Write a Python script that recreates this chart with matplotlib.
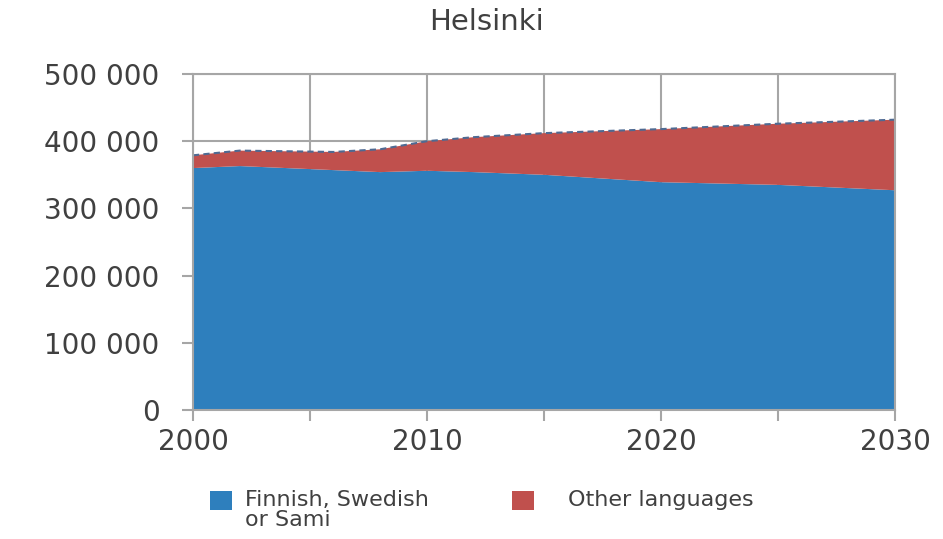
import numpy as np
import matplotlib
matplotlib.use("Agg")
import matplotlib.pyplot as plt
from matplotlib.ticker import FuncFormatter, MultipleLocator
from matplotlib.patches import Rectangle

# data (population)
years = [2000, 2002, 2004, 2006, 2008, 2010, 2012, 2015, 2020, 2025, 2030]
finnish = [360000, 363000, 360000, 357000, 354000, 356000, 354000, 350000, 339000, 335000, 327000]
other = [19000, 23000, 25000, 27000, 34000, 44000, 52000, 62000, 79000, 91000, 105000]
labels = ["Finnish, Swedish\nor Sami", "Other languages"]

blue = "#2E7FBD"
red = "#C0504D"
grid = "#A6A6A6"
txt = "#404040"

total = np.array(finnish) + np.array(other)

W, H = 943, 539
fig = plt.figure(figsize=(W / 100, H / 100), dpi=100)
ax = fig.add_axes([193 / W, 1 - 410 / H, (895 - 193) / W, (410 - 74) / H])

ax.stackplot(years, finnish, other, colors=[blue, red], linewidth=0)
ax.plot(years, total, ls=(0, (3, 2)), color="#4F6A92", lw=1.5)
ax.plot([years[-1], years[-1]], [finnish[-1], total[-1]], ls=(0, (3, 2)), color="#4F6A92", lw=1.5)

ax.set_xlim(2000, 2030)
ax.set_ylim(0, 500000)
ax.xaxis.set_major_locator(MultipleLocator(10))
ax.xaxis.set_minor_locator(MultipleLocator(5))
ax.yaxis.set_major_locator(MultipleLocator(100000))
ax.yaxis.set_major_formatter(FuncFormatter(lambda v, p: "{:,}".format(int(v)).replace(",", " ")))

ax.grid(True, which="both", axis="x", color=grid, lw=1.5)
ax.grid(True, which="major", axis="y", color=grid, lw=1.5)
ax.set_axisbelow(True)
for s in ax.spines.values():
    s.set_color(grid)
    s.set_linewidth(1.5)
ax.tick_params(which="both", color=grid, width=1.5, length=8, labelcolor=txt, labelsize=20)
ax.tick_params(axis="x", pad=5)
ax.tick_params(axis="y", pad=16)

fig.text(487 / W, 1 - 22 / H, "Helsinki", ha="center", va="center", fontsize=21, color=txt)

# legend, laid out by hand like the original
for lab, col, (px, tx) in zip(labels, [blue, red], [(210, 245), (512, 568)]):
    fig.add_artist(Rectangle((px / W, 1 - 510 / H), 22 / W, 19 / H, transform=fig.transFigure,
                             facecolor=col, edgecolor="none"))
    fig.text(tx / W, 1 - 490 / H, lab, ha="left", va="top", fontsize=16, color=txt,
             linespacing=1.0)

fig.savefig("out.png", dpi=100)
